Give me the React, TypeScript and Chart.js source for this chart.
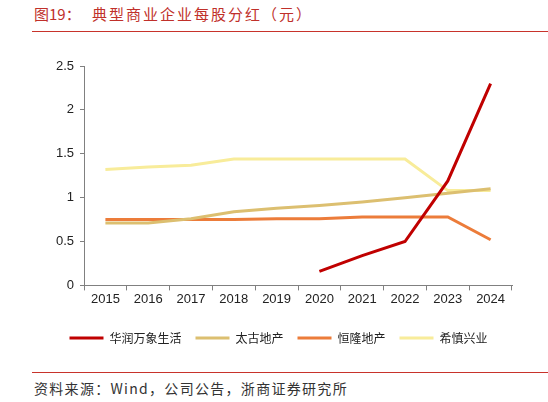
import React, { useEffect, useRef } from 'react';
import { Chart, registerables } from 'chart.js';

Chart.register(...registerables);

const years = ['2015', '2016', '2017', '2018', '2019', '2020', '2021', '2022', '2023', '2024'];

const crMixc = [null, null, null, null, null, 0.16, 0.34, 0.5, 1.19, 2.3];
const swireProps = [0.71, 0.71, 0.76, 0.84, 0.88, 0.91, 0.95, 1.0, 1.05, 1.1];
const hangLung = [0.75, 0.75, 0.75, 0.75, 0.76, 0.76, 0.78, 0.78, 0.78, 0.52];
const hysan = [1.32, 1.35, 1.37, 1.44, 1.44, 1.44, 1.44, 1.44, 1.08, 1.08];

const seriesNames = ['华润万象生活', '太古地产', '恒隆地产', '希慎兴业'];
const seriesColors = ['#c00000', '#dcbf70', '#ec7c3a', '#f8ec9a'];

const cjk = '"Noto Sans CJK SC", "Noto Sans", sans-serif';
const latin = '"Liberation Sans", Arial, sans-serif';

const DividendChart: React.FC = () => {
  const canvasRef = useRef<HTMLCanvasElement>(null);
  const chartRef = useRef<Chart | null>(null);

  useEffect(() => {
    document.body.style.margin = '0';
    if (!canvasRef.current) return;
    const ctx = canvasRef.current.getContext('2d');
    if (!ctx) return;

    const values = [crMixc, swireProps, hangLung, hysan];

    chartRef.current = new Chart(ctx, {
      type: 'line',
      data: {
        labels: years,
        datasets: values.map((v, i) => ({
          label: seriesNames[i],
          data: v,
          borderColor: seriesColors[i],
          backgroundColor: seriesColors[i],
          borderWidth: 3,
          pointRadius: 0,
          pointStyle: 'line',
          tension: 0,
          fill: false,
        })),
      },
      options: {
        animation: false,
        responsive: true,
        maintainAspectRatio: false,
        layout: { padding: { left: 45, right: 36, top: 26, bottom: 6 } },
        scales: {
          x: {
            offset: true,
            grid: { offset: true, drawOnChartArea: false, tickLength: 5, color: '#808080' },
            border: { color: '#808080', width: 1 },
            ticks: { color: '#222', font: { family: latin, size: 13 }, padding: 1, maxRotation: 0 },
            afterFit: (s: any) => {
              s.height += 10;
            },
          },
          y: {
            min: 0,
            max: 2.5,
            ticks: {
              stepSize: 0.5,
              color: '#222',
              font: { family: latin, size: 13 },
              padding: 6,
              callback: (v: any) => String(v),
            },
            grid: { drawOnChartArea: false, tickLength: 4, color: '#808080' },
            border: { color: '#808080', width: 1 },
            afterFit: (s: any) => {
              s.width = 39;
            },
          },
        },
        plugins: {
          legend: {
            position: 'bottom',
            labels: {
              usePointStyle: true,
              pointStyleWidth: 34,
              color: '#222',
              padding: 14,
              font: { family: cjk, size: 12 },
            },
          },
          tooltip: { enabled: false },
        },
      },
    });

    return () => {
      if (chartRef.current) {
        chartRef.current.destroy();
        chartRef.current = null;
      }
    };
  }, []);

  return (
    <div style={{ position: 'relative', width: 548, height: 402, background: '#fff', overflow: 'hidden' }}>
      <div
        style={{
          position: 'absolute',
          left: 34,
          top: 4,
          fontFamily: cjk,
          fontSize: 15,
          color: '#c0302a',
          whiteSpace: 'nowrap',
          lineHeight: '20px',
        }}
      >
        <span>图19：</span>
        <span style={{ position: 'absolute', left: 58, letterSpacing: 2 }}>典型商业企业每股分红（元）</span>
      </div>
      <div style={{ position: 'absolute', left: 32, top: 31, width: 516, height: 1, background: '#c8332b' }} />
      <div style={{ position: 'absolute', left: 0, top: 40, width: 548, height: 320 }}>
        <canvas ref={canvasRef}></canvas>
      </div>
      <div style={{ position: 'absolute', left: 32, top: 372, width: 516, height: 1, background: '#c8332b' }} />
      <div
        style={{
          position: 'absolute',
          left: 34,
          top: 378,
          fontFamily: cjk,
          fontSize: 14,
          color: '#333',
          whiteSpace: 'nowrap',
          lineHeight: '20px',
          letterSpacing: 1.3,
        }}
      >
        资料来源：Wind，公司公告，浙商证券研究所
      </div>
    </div>
  );
};

export default function App() {
  return <DividendChart />;
}
